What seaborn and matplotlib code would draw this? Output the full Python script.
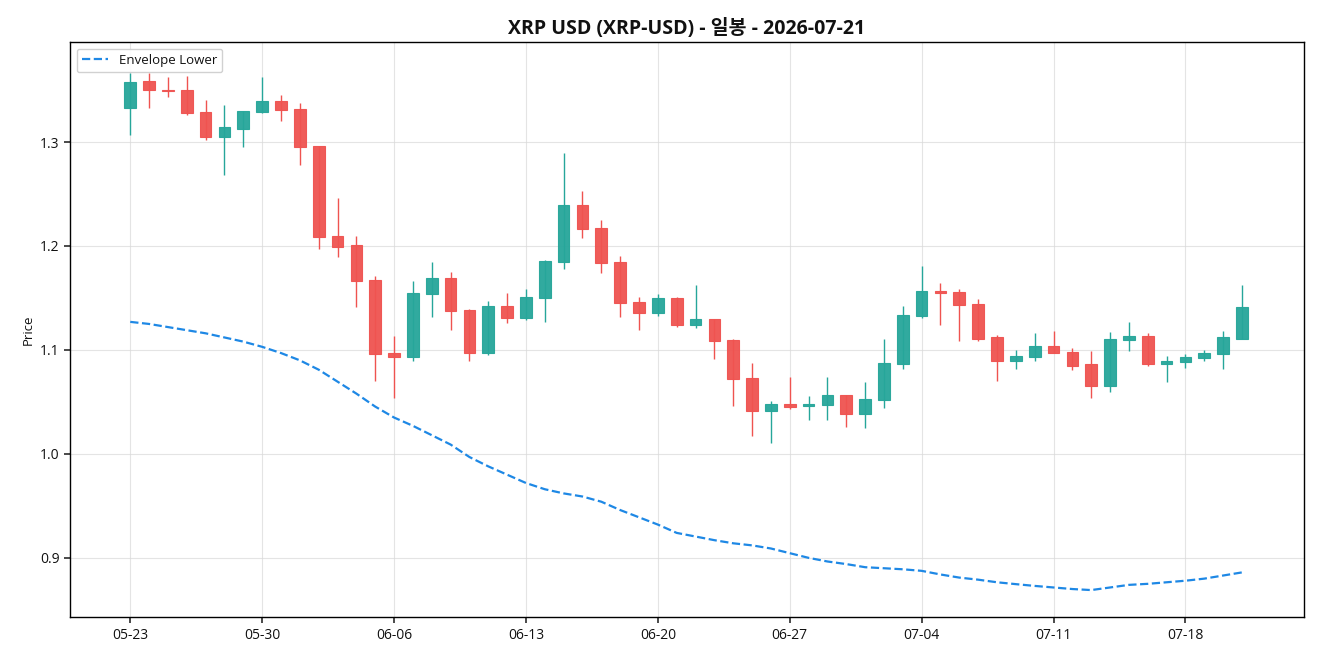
import numpy as np
import pandas as pd
import matplotlib
matplotlib.use("Agg")
import matplotlib.pyplot as plt
import seaborn as sns

# ---- data ----
start_date = "2026-05-23"
n_days = 60
opens = [1.333, 1.359, 1.350, 1.350, 1.329, 1.305, 1.313, 1.329, 1.339, 1.332,
         1.296, 1.210, 1.201, 1.167, 1.097, 1.093, 1.154, 1.169, 1.138, 1.097,
         1.142, 1.131, 1.150, 1.185, 1.239, 1.217, 1.185, 1.146, 1.136, 1.150,
         1.124, 1.130, 1.110, 1.073, 1.041, 1.048, 1.046, 1.047, 1.057, 1.038,
         1.052, 1.086, 1.133, 1.157, 1.156, 1.144, 1.112, 1.089, 1.093, 1.104,
         1.098, 1.086, 1.065, 1.110, 1.113, 1.086, 1.088, 1.092, 1.096, 1.111]
highs = [1.366, 1.366, 1.363, 1.364, 1.340, 1.336, 1.330, 1.363, 1.345, 1.338,
         1.296, 1.246, 1.210, 1.171, 1.113, 1.166, 1.185, 1.175, 1.139, 1.147,
         1.155, 1.159, 1.187, 1.289, 1.253, 1.225, 1.190, 1.151, 1.154, 1.151,
         1.162, 1.130, 1.111, 1.087, 1.051, 1.074, 1.056, 1.074, 1.057, 1.069,
         1.111, 1.142, 1.181, 1.164, 1.159, 1.149, 1.114, 1.100, 1.116, 1.118,
         1.102, 1.099, 1.117, 1.127, 1.116, 1.094, 1.096, 1.100, 1.118, 1.162]
lows = [1.307, 1.333, 1.343, 1.326, 1.302, 1.268, 1.295, 1.328, 1.320, 1.278,
        1.197, 1.189, 1.141, 1.070, 1.054, 1.089, 1.132, 1.119, 1.089, 1.095,
        1.126, 1.129, 1.127, 1.178, 1.208, 1.174, 1.132, 1.119, 1.133, 1.122,
        1.121, 1.091, 1.046, 1.017, 1.010, 1.043, 1.033, 1.033, 1.026, 1.025,
        1.044, 1.082, 1.131, 1.124, 1.109, 1.109, 1.070, 1.082, 1.089, 1.097,
        1.081, 1.054, 1.060, 1.099, 1.085, 1.069, 1.083, 1.089, 1.082, 1.111]
closes = [1.358, 1.350, 1.349, 1.328, 1.305, 1.314, 1.330, 1.339, 1.331, 1.295,
          1.209, 1.199, 1.166, 1.096, 1.093, 1.155, 1.169, 1.137, 1.097, 1.142,
          1.131, 1.151, 1.186, 1.239, 1.216, 1.184, 1.145, 1.136, 1.150, 1.124,
          1.130, 1.109, 1.072, 1.041, 1.048, 1.0455, 1.048, 1.057, 1.038, 1.053,
          1.087, 1.134, 1.157, 1.155, 1.143, 1.111, 1.089, 1.094, 1.104, 1.097,
          1.085, 1.065, 1.111, 1.113, 1.086, 1.089, 1.093, 1.097, 1.112, 1.141]
envelope_lower = [1.127, 1.125, 1.122, 1.119, 1.116, 1.112, 1.108, 1.103, 1.097, 1.090,
                  1.081, 1.0695, 1.058, 1.0455, 1.035, 1.027, 1.018, 1.009, 0.997, 0.988,
                  0.980, 0.972, 0.966, 0.962, 0.959, 0.954, 0.946, 0.939, 0.932, 0.924,
                  0.9205, 0.917, 0.914, 0.912, 0.909, 0.9045, 0.900, 0.8965, 0.894, 0.891,
                  0.890, 0.889, 0.8875, 0.884, 0.881, 0.879, 0.8765, 0.8747, 0.873, 0.8715,
                  0.870, 0.869, 0.8715, 0.874, 0.875, 0.8765, 0.878, 0.880, 0.883, 0.886]
title = "XRP USD (XRP-USD) - 일봉 - 2026-07-21"
legend_label = "Envelope Lower"
y_label = "Price"

dates = pd.date_range(start_date, periods=n_days)
df = pd.DataFrame({"date": dates, "open": opens, "high": highs, "low": lows,
                   "close": closes, "env_lower": envelope_lower})
df["idx"] = np.arange(len(df))

# ---- style ----
sns.set_theme(style="white")
plt.rcParams["font.family"] = ["Open Sans", "Noto Sans CJK KR", "DejaVu Sans"]
plt.rcParams["axes.unicode_minus"] = False

UP = "#26a69a"
DOWN = "#ef5350"
ENV = "#1e88e5"
TXT = "#111111"

fig, ax = plt.subplots(figsize=(13.2, 6.6), dpi=100)
fig.subplots_adjust(left=0.053, right=0.988, top=0.936, bottom=0.065)

up = df["close"] >= df["open"]
colors = np.where(up, UP, DOWN)

# wicks
ax.vlines(df["idx"], df["low"], df["high"], colors=colors, linewidth=1.0, zorder=2)
# bodies
body_bottom = np.minimum(df["open"], df["close"])
body_height = np.maximum(np.abs(df["close"] - df["open"]), 0.0015)
ax.bar(df["idx"], body_height, bottom=body_bottom, width=0.62, color=colors,
       edgecolor=colors, linewidth=0.8, alpha=0.95, zorder=3)

# envelope line with seaborn
sns.lineplot(data=df, x="idx", y="env_lower", ax=ax, color=ENV, linewidth=1.6,
             linestyle="--", label=legend_label, zorder=4)

ticks = list(range(0, n_days, 7))
ax.set_xticks(ticks)
ax.set_xticklabels([dates[i].strftime("%m-%d") for i in ticks])
ax.set_yticks([0.9, 1.0, 1.1, 1.2, 1.3])
ax.set_xlim(-3.2, 62.3)
ax.set_ylim(0.843, 1.396)

ax.grid(True, color="#d9d9d9", linewidth=0.8, alpha=0.7)
ax.set_axisbelow(True)
ax.tick_params(axis="both", labelsize=10, length=4, color="#333333",
               labelcolor=TXT, left=True, bottom=True)
for s in ax.spines.values():
    s.set_color("black")
    s.set_linewidth(1.0)

ax.set_xlabel("")
ax.set_ylabel(y_label, fontsize=9.5, color=TXT)
ax.set_title(title, fontsize=14, fontweight="bold", color=TXT)
leg = ax.legend(loc="upper left", fontsize=9.5, frameon=True, fancybox=True, framealpha=0.9)
for t in leg.get_texts():
    t.set_color(TXT)

fig.savefig("out.png", dpi=100)
